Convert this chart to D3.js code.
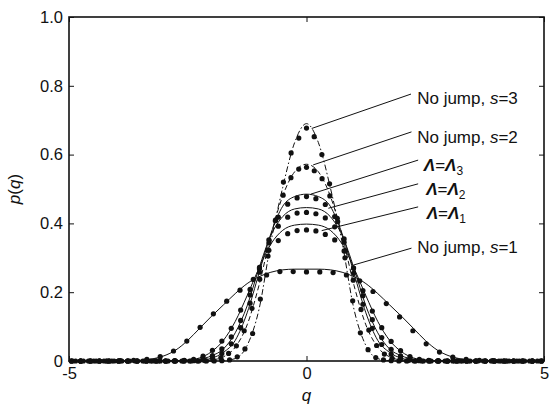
<!DOCTYPE html>
<html>
<head>
<meta charset="utf-8">
<script src="https://cdn.jsdelivr.net/npm/d3@7"></script>
<style>
  body { margin: 0; background: #fff; }
  svg { display: block; font-family: "Liberation Sans", Arial, sans-serif; }
</style>
</head>
<body>
<div id="chart"></div>
<script>
// q grid for the smooth curves (step 0.25 from -5 to 5)
const lineStep = 0.25;

// smooth curves p(q)
const lineS1 = [0,0,0,0,0,.001,.002,.006,.015,.032,.060,.095,.130,.163,.196,.225,.245,.258,.265,.267,
  .267,
  .267,.265,.258,.245,.225,.196,.163,.130,.095,.060,.032,.015,.006,.002,.001,0,0,0,0,0];
const lineL1 = [0,0,0,0,0,0,0,0,0,.001,.003,.009,.027,.06,.115,.19,.27,.34,.38,.395,
  .398,
  .395,.38,.34,.27,.19,.115,.06,.027,.009,.003,.001,0,0,0,0,0,0,0,0,0];
const lineL2 = [0,0,0,0,0,0,0,0,0,0,.001,.005,.015,.035,.082,.16,.27,.365,.42,.442,
  .446,
  .442,.42,.365,.27,.16,.082,.035,.015,.005,.001,0,0,0,0,0,0,0,0,0,0];
const lineL3 = [0,0,0,0,0,0,0,0,0,0,0,.002,.008,.025,.06,.14,.255,.37,.45,.478,
  .485,
  .478,.45,.37,.255,.14,.06,.025,.008,.002,0,0,0,0,0,0,0,0,0,0,0];
const lineS2 = [0,0,0,0,0,0,0,0,0,0,0,.001,.003,.012,.04,.105,.22,.365,.48,.55,
  .572,
  .55,.48,.365,.22,.105,.04,.012,.003,.001,0,0,0,0,0,0,0,0,0,0,0];
const lineS3 = [0,0,0,0,0,0,0,0,0,0,0,0,0,.001,.007,.045,.15,.345,.505,.635,
  .69,
  .635,.505,.345,.15,.045,.007,.001,0,0,0,0,0,0,0,0,0,0,0,0,0];

// sampled points (each series on its own q lattice, centred on 0)
const dotStepS1 = 0.28;
const dotsS1 = [0,0,0,.001,.002,.005,.0125,.029,.058,.098,.137,.174,.206,.237,.25,.26,.26,
  .259,
  .259,.257,.25,.233,.202,.167,.128,.088,.05,.026,.011,.005,.002,.001,0,0,0];

const dotStepL = 0.198;
const dotsL1 = [0,0,0,0,0,0,0,0,0,0,0,.001,.002,.005,.014,.031,.058,.095,.148,.208,.268,.322,.35,.37,.379,
  .381,
  .378,.368,.352,.32,.27,.205,.145,.097,.057,.03,.013,.005,.002,.001,0,0,0,0,0,0,0,0,0,0,0];
const dotsL2 = [0,0,0,0,0,0,0,0,0,0,0,0,.001,.002,.006,.016,.035,.07,.118,.192,.272,.343,.392,.418,.43,
  .432,
  .428,.416,.39,.345,.27,.19,.12,.068,.034,.015,.006,.002,.001,0,0,0,0,0,0,0,0,0,0,0,0];
const dotsL3 = [0,0,0,0,0,0,0,0,0,0,0,0,0,.001,.003,.009,.022,.05,.097,.168,.258,.352,.418,.456,.474,
  .478,
  .472,.455,.42,.355,.255,.165,.095,.048,.02,.008,.003,.001,0,0,0,0,0,0,0,0,0,0,0,0,0];

const dotStepS2 = 0.164;
const dotsS2 = [0,0,0,0,0,0,0,0,0,0,0,0,0,0,0,0,0,.001,.003,.009,.022,.044,.088,.153,.238,.322,.408,.482,.533,.558,
  .563,
  .553,.53,.48,.405,.32,.235,.15,.09,.045,.02,.008,.003,.001,0,0,0,0,0,0,0,0,0,0,0,0,0,0,0,0,0];

const dotStepS3 = 0.162;
const dotsS3 = [0,0,0,0,0,0,0,0,0,0,0,0,0,0,0,0,0,0,0,.001,.003,.012,.035,.08,.18,.305,.41,.52,.605,.648,
  .677,
  .652,.60,.515,.415,.30,.175,.082,.033,.01,.003,.001,0,0,0,0,0,0,0,0,0,0,0,0,0,0,0,0,0,0,0];

// axis ticks
const xTicks = [-5, 0, 5];
const yTicks = [0, 0.2, 0.4, 0.6, 0.8, 1.0];

// labels: name, leader start (q,p), leader end (q,p), text position (q,p)
const labelKind = ['s3', 's2', 'L3', 'L2', 'L1', 's1'];
const labelSub = ['3', '2', '3', '2', '1', '1'];
const leaderFrom = [[0.11, 0.676], [0.14, 0.57], [0.09, 0.485], [0.46, 0.444], [0.32, 0.379], [0.99, 0.279]];
const leaderTo = [[2.2, 0.776], [2.21, 0.666], [2.35, 0.584], [2.35, 0.515], [2.35, 0.448], [2.21, 0.328]];
const labelAt = [[2.33, 0.765], [2.33, 0.651], [2.47, 0.57], [2.52, 0.499], [2.53, 0.429], [2.33, 0.331]];

const W = 553, H = 405;
const margin = { left: 69, right: 9, top: 17, bottom: 44 };

const svg = d3.select('#chart').append('svg')
  .attr('width', W)
  .attr('height', H);

const x = d3.scaleLinear().domain([-5, 5]).range([margin.left, W - margin.right]);
const y = d3.scaleLinear().domain([0, 1]).range([H - margin.bottom, margin.top]);

const ink = '#111';

// curves
function curveData(vals, step) {
  const n = (vals.length - 1) / 2;
  return vals.map((v, i) => ({ q: (i - n) * step, p: v }));
}

const line = d3.line()
  .x(d => x(d.q))
  .y(d => y(d.p))
  .curve(d3.curveMonotoneX);

const curves = [
  { vals: lineS1, dash: null },
  { vals: lineL1, dash: null },
  { vals: lineL2, dash: null },
  { vals: lineL3, dash: null },
  { vals: lineS2, dash: '5,3' },
  { vals: lineS3, dash: '6,2.5,1.5,2.5' }
];

const plot = svg.append('g');

plot.selectAll('path.curve')
  .data(curves)
  .join('path')
  .attr('class', 'curve')
  .attr('d', d => line(curveData(d.vals, lineStep)))
  .attr('fill', 'none')
  .attr('stroke', ink)
  .attr('stroke-width', 1)
  .attr('stroke-dasharray', d => d.dash);

const dotSets = [
  curveData(dotsS1, dotStepS1),
  curveData(dotsL1, dotStepL),
  curveData(dotsL2, dotStepL),
  curveData(dotsL3, dotStepL),
  curveData(dotsS2, dotStepS2),
  curveData(dotsS3, dotStepS3)
];

plot.selectAll('g.dots')
  .data(dotSets)
  .join('g')
  .attr('class', 'dots')
  .selectAll('circle')
  .data(d => d)
  .join('circle')
  .attr('cx', d => x(d.q))
  .attr('cy', d => y(d.p))
  .attr('r', 2.6)
  .attr('fill', ink);

// leader lines
svg.append('g').selectAll('line')
  .data(labelKind.map((k, i) => i))
  .join('line')
  .attr('x1', i => x(leaderFrom[i][0]))
  .attr('y1', i => y(leaderFrom[i][1]))
  .attr('x2', i => x(leaderTo[i][0]))
  .attr('y2', i => y(leaderTo[i][1]))
  .attr('stroke', ink)
  .attr('stroke-width', 1);

// labels
labelKind.forEach((k, i) => {
  const t = svg.append('text')
    .attr('x', x(labelAt[i][0]))
    .attr('y', y(labelAt[i][1]) + 6)
    .attr('font-size', 17)
    .attr('fill', ink);
  if (k[0] === 's') {
    t.append('tspan').text('No jump, ');
    t.append('tspan').attr('font-style', 'italic').text('s');
    t.append('tspan').text('=' + labelSub[i]);
  } else {
    t.append('tspan').attr('font-style', 'italic').attr('font-weight', 'bold').text('Λ');
    t.append('tspan').text('=');
    t.append('tspan').attr('font-style', 'italic').attr('font-weight', 'bold').text('Λ');
    t.append('tspan').attr('font-size', 12).attr('dy', 4).text(labelSub[i]);
  }
});

// axes box
const axisW = 1.6;
svg.append('rect')
  .attr('x', x(-5))
  .attr('y', y(1))
  .attr('width', x(5) - x(-5))
  .attr('height', y(0) - y(1))
  .attr('fill', 'none')
  .attr('stroke', ink)
  .attr('stroke-width', axisW);

const fmtY = d => d === 0 ? '0' : d3.format('.1f')(d);
const fmtX = d => d < 0 ? '-' + Math.abs(d) : String(d);

function styleAxis(g) {
  g.select('.domain').remove();
  g.selectAll('.tick line').attr('stroke', ink).attr('stroke-width', 1);
  g.selectAll('.tick text').attr('fill', ink).attr('font-size', 16.5)
    .attr('font-family', '"Liberation Sans", Arial, sans-serif');
}

svg.append('g')
  .attr('transform', `translate(${x(-5)},0)`)
  .call(d3.axisLeft(y).tickValues(yTicks).tickFormat(fmtY).tickSizeInner(-5).tickSizeOuter(0).tickPadding(6))
  .call(styleAxis);

svg.append('g')
  .attr('transform', `translate(${x(5)},0)`)
  .call(d3.axisRight(y).tickValues(yTicks).tickFormat('').tickSizeInner(-5).tickSizeOuter(0))
  .call(styleAxis);

svg.append('g')
  .attr('transform', `translate(0,${y(0)})`)
  .call(d3.axisBottom(x).tickValues(xTicks).tickFormat(fmtX).tickSizeInner(-5).tickSizeOuter(0).tickPadding(6))
  .call(styleAxis);

svg.append('g')
  .attr('transform', `translate(0,${y(1)})`)
  .call(d3.axisTop(x).tickValues(xTicks).tickFormat('').tickSizeInner(-5).tickSizeOuter(0))
  .call(styleAxis);

// axis titles
svg.append('text')
  .attr('x', x(0))
  .attr('y', H - 4)
  .attr('text-anchor', 'middle')
  .attr('font-size', 17)
  .attr('font-style', 'italic')
  .attr('fill', ink)
  .text('q');

const yt = svg.append('text')
  .attr('transform', `translate(20,${(y(0) + y(1)) / 2}) rotate(-90)`)
  .attr('text-anchor', 'middle')
  .attr('font-size', 17)
  .attr('fill', ink);
yt.append('tspan').attr('font-style', 'italic').text('p');
yt.append('tspan').text('(');
yt.append('tspan').attr('font-style', 'italic').text('q');
yt.append('tspan').text(')');
</script>
</body>
</html>
